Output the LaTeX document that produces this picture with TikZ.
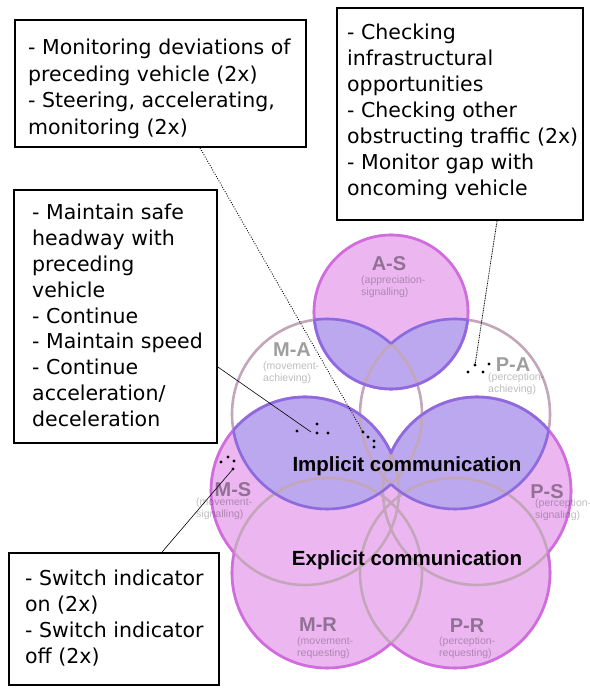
\documentclass[tikz,border=0pt]{standalone}
\usepackage{fontspec}
\setmainfont{DejaVu Sans}
\newfontfamily\helv{Liberation Sans}
\usetikzlibrary{calc}
\definecolor{pinkfill}{HTML}{ECB6F1}
\definecolor{magstroke}{HTML}{D46AE2}
\definecolor{purpfill}{HTML}{BCA8EE}
\definecolor{purpstroke}{HTML}{8C6AE2}
\definecolor{circgray}{HTML}{C4A6BA}
\def\vcAS{(391,376) circle (77)}
\def\vcMA{(327,274) circle (95)}
\def\vcPA{(455,274) circle (95)}
\def\vcMS{(305,197) circle (94)}
\def\vcPS{(477,197) circle (94)}
\def\vcMR{(327,115) circle (95)}
\def\vcPR{(455,115) circle (95)}
\newcommand{\outclip}[1]{\clip (-60,-60) -- (-60,760) -- (660,760) -- (660,-60) -- cycle #1;}
\begin{document}
\begin{tikzpicture}[x=1pt,y=1pt,
  circline/.style={line width=2.6pt},
  boxnode/.style={draw=black, line width=1.8pt, fill=white, inner sep=0pt},
  boxtext/.style={anchor=base west, inner sep=0pt, align=left},
  biglbl/.style={font=\helv\bfseries\fontsize{20}{20}\selectfont, text=black, text opacity=0.38, inner sep=0pt},
  sublbl/.style={font=\helv\fontsize{10.5}{12}\selectfont, text=black, text opacity=0.26, inner sep=0pt, align=left, anchor=west},
  commlbl/.style={font=\helv\bfseries\fontsize{20.5}{20.5}\selectfont, anchor=base, inner sep=0pt},
  thinlink/.style={line width=0.6pt, black},
  dotlink/.style={line width=0.9pt, black, dash pattern=on 0.9pt off 1.6pt},
  dotlinkb/.style={line width=0.8pt, black, dash pattern=on 0.9pt off 0.8pt}
]
\fill[white] (0,0) rectangle (589,688);
\useasboundingbox (0,0) rectangle (589,688);

% pink union
\fill[pinkfill] \vcAS \vcMS \vcPS \vcMR \vcPR;
% purple region
\begin{scope}
  \clip \vcMA \vcPA;
  \fill[purpfill] \vcAS \vcMS \vcPS;
\end{scope}
% gray circle outlines
\draw[circgray, circline] \vcMA \vcPA \vcMS \vcPS \vcMR \vcPR \vcAS;

% magenta outer boundary
\begin{scope}\outclip{\vcMS}\outclip{\vcPS}\outclip{\vcMR}\outclip{\vcPR}\draw[magstroke, circline] \vcAS;\end{scope}
\begin{scope}\outclip{\vcAS}\outclip{\vcPS}\outclip{\vcMR}\outclip{\vcPR}\draw[magstroke, circline] \vcMS;\end{scope}
\begin{scope}\outclip{\vcAS}\outclip{\vcMS}\outclip{\vcMR}\outclip{\vcPR}\draw[magstroke, circline] \vcPS;\end{scope}
\begin{scope}\outclip{\vcAS}\outclip{\vcMS}\outclip{\vcPS}\outclip{\vcPR}\draw[magstroke, circline] \vcMR;\end{scope}
\begin{scope}\outclip{\vcAS}\outclip{\vcMS}\outclip{\vcPS}\outclip{\vcMR}\draw[magstroke, circline] \vcPR;\end{scope}

% purple boundary
\begin{scope}\clip \vcMA \vcPA; \outclip{\vcMS}\outclip{\vcPS}\draw[purpstroke, circline] \vcAS;\end{scope}
\begin{scope}\clip \vcMA \vcPA; \outclip{\vcAS}\outclip{\vcPS}\draw[purpstroke, circline] \vcMS;\end{scope}
\begin{scope}\clip \vcMA \vcPA; \outclip{\vcAS}\outclip{\vcMS}\draw[purpstroke, circline] \vcPS;\end{scope}
\begin{scope}\clip \vcAS \vcMS \vcPS; \outclip{\vcPA}\draw[purpstroke, circline] \vcMA;\end{scope}
\begin{scope}\clip \vcAS \vcMS \vcPS; \outclip{\vcMA}\draw[purpstroke, circline] \vcPA;\end{scope}

% circle labels
\node[biglbl] (lAS) at (389,424) {A-S};
\node[sublbl] (sAS) at (361,401) {(appreciation-\\signalling)};
\node[biglbl] (lMA) at (292,338) {M-A};
\node[sublbl] (sMA) at (263,315.5) {(movement-\\achieving)};
\node[biglbl] (lPA) at (513,323.5) {P-A};
\node[sublbl] (sPA) at (488,304) {(perception-\\achieving)};
\node[biglbl] (lMS) at (233,198) {M-S};
\node[sublbl] (sMS) at (196,179) {(movement-\\signalling)};
\node[biglbl] (lPS) at (547,196) {P-S};
\node[sublbl] (sPS) at (535,178) {(perception-\\signaling)};
\node[biglbl] (lMR) at (318,63) {M-R};
\node[sublbl] (sMR) at (297,40.5) {(movement-\\requesting)};
\node[biglbl] (lPR) at (467,62) {P-R};
\node[sublbl] (sPR) at (439,40.5) {(perception-\\requesting)};

\node[commlbl] (impl) at (407,216.3) {Implicit communication};
\node[commlbl] (expl) at (407,122) {Explicit communication};

% dots
\coordinate (dA1) at (363,256);
\coordinate (dA2) at (368,251);
\coordinate (dA3) at (374,247);
\coordinate (dA4) at (374,241);
\coordinate (dB1) at (468,316);
\coordinate (dB2) at (475,323);
\coordinate (dB3) at (483,316);
\coordinate (dB4) at (489,324);
\coordinate (dC1) at (297,257);
\coordinate (dC2) at (317,264);
\coordinate (dC3) at (317,255);
\coordinate (dC4) at (328,255);
\coordinate (eC) at (311,256);
\coordinate (dD1) at (221,226);
\coordinate (dD2) at (228,231);
\coordinate (dD3) at (234,227);
\coordinate (dD4) at (233,219);
\foreach \p in {dA1,dA2,dA3,dA4,dB1,dB2,dB3,dB4,dC1,dC2,dC3,dC4,dD1,dD2,dD3,dD4}
  \fill[black] (\p) circle (1.7);

% boxes
\node[boxnode, minimum width=291pt, minimum height=127pt] (b1) at (160.5,604.5) {};
\node[boxnode, minimum width=246pt, minimum height=212pt] (b2) at (460,574) {};
\node[boxnode, minimum width=203pt, minimum height=253pt] (b3) at (115.5,371.5) {};
\node[boxnode, minimum width=210pt, minimum height=132pt] (b4) at (114,69) {};

% text anchored at the baseline of the last line
\node[boxtext, font=\fontsize{20.5}{26.5}\selectfont] (t1) at (28,553.5)
  {- Monitoring deviations of\\preceding vehicle (2x)\\- Steering, accelerating,\\monitoring (2x)};
\node[boxtext, font=\fontsize{20.5}{26}\selectfont] (t2) at (347,492.5)
  {- Checking\\infrastructural\\opportunities\\- Checking other\\obstructing traffic (2x)\\- Monitor gap with\\oncoming vehicle};
\node[boxtext, font=\fontsize{20.5}{25.8}\selectfont] (t3) at (32,261.6)
  {- Maintain safe\\headway with\\preceding\\vehicle\\- Continue\\- Maintain speed\\- Continue\\acceleration/\\deceleration};
\node[boxtext, font=\fontsize{20.5}{25.7}\selectfont] (t4) at (25,24.9)
  {- Switch indicator\\on (2x)\\- Switch indicator\\off (2x)};

% connectors
\draw[dotlink] ($(b1.south)+(39.5,0)$) -- (dA1);
\draw[dotlinkb] ($(b2.south)+(37,0)$) -- (dB2);
\draw[thinlink] ($(b3.east)+(0,-50.5)$) -- (eC);
\draw[thinlink] ($(b4.north)+(48,0)$) -- (dD4);
\end{tikzpicture}
\end{document}
